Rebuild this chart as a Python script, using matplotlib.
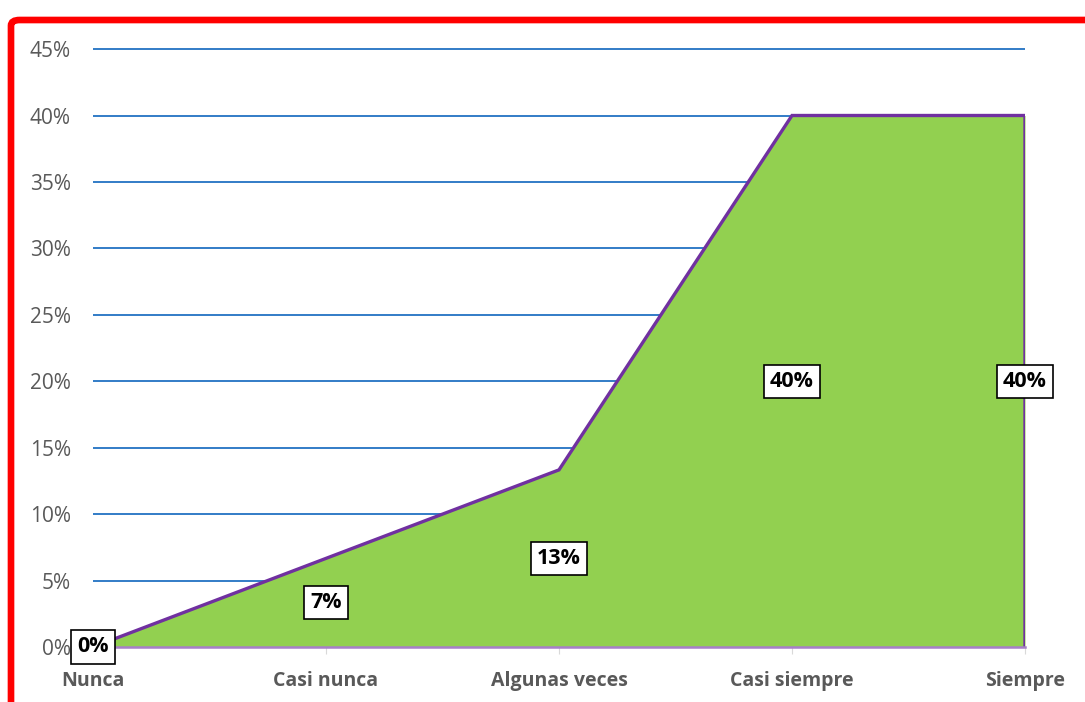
import matplotlib
matplotlib.use("Agg")
import matplotlib.pyplot as plt
from matplotlib.patches import FancyBboxPatch
from matplotlib.ticker import PercentFormatter

categories = ["Nunca", "Casi nunca", "Algunas veces", "Casi siempre", "Siempre"]
values = [0.0, 0.0667, 0.1333, 0.40, 0.40]
labels = ["0%", "7%", "13%", "40%", "40%"]
yticks = [0, 0.05, 0.10, 0.15, 0.20, 0.25, 0.30, 0.35, 0.40, 0.45]

plt.rcParams['font.family'] = ['Open Sans', 'DejaVu Sans']

fig = plt.figure(figsize=(10.85, 7.02), dpi=100)
ax = fig.add_axes([93/1085, 1-647/702, (1025-93)/1085, (647-48)/702])

x = list(range(len(categories)))
ax.fill_between(x, values, 0, color="#92D050", zorder=2, linewidth=0)
ax.plot(x + [x[-1]], values + [0], color="#7030A0", linewidth=2.4, zorder=3,
        solid_joinstyle="miter")

ax.set_xlim(x[0], x[-1])
ax.set_ylim(0, 0.4508)
ax.set_yticks(yticks)
ax.yaxis.set_major_formatter(PercentFormatter(1.0, decimals=0))
ax.grid(axis="y", color="#2272C3", linewidth=1.3, zorder=1)
ax.set_axisbelow(True)

for s in ["top", "right", "left"]:
    ax.spines[s].set_visible(False)
ax.spines["bottom"].set_color("#A77FC8")
ax.spines["bottom"].set_linewidth(1.8)
ax.spines["bottom"].set_zorder(4)

ax.set_xticks(x)
ax.set_xticklabels(categories, fontweight="bold", fontsize=14, color="#595959")
ax.tick_params(axis="x", length=5, color="#D9D9D9", pad=12)
ax.tick_params(axis="y", length=0, labelsize=15, labelcolor="#595959", pad=16)

for xi, v, lab in zip(x, values, labels):
    ax.text(xi, v / 2, lab, ha="center", va="center", fontsize=15.5,
            fontweight="bold", color="black", zorder=6,
            bbox=dict(boxstyle="square,pad=0.28", fc="white", ec="black", lw=1.2))

border = FancyBboxPatch((11/1085, -0.2), 1.2, 1 - 20/702 + 0.2,
                        boxstyle="round,pad=0,rounding_size=0.008",
                        transform=fig.transFigure, fill=False,
                        edgecolor="#FF0000", linewidth=4.8, clip_on=False)
fig.patches.append(border)

fig.savefig("out.png", dpi=100)
